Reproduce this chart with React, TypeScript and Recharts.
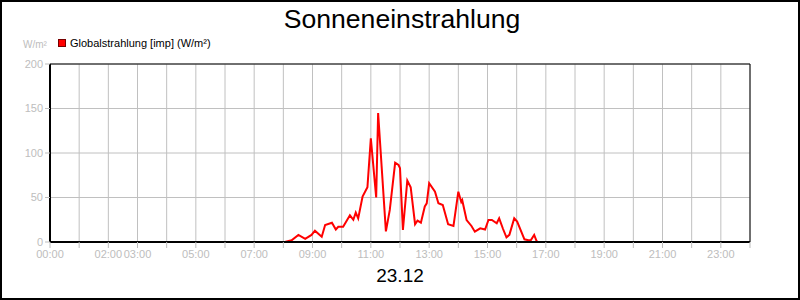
import React from 'react';
import { LineChart, Line, XAxis, YAxis, CartesianGrid, Legend, ReferenceLine } from 'recharts';

// minutes since midnight
const times = [
  0, 483, 497, 511, 525, 538, 545, 559, 566, 580, 588, 593, 603, 617, 624, 629, 634, 643, 653,
  660, 671, 675, 691, 699, 710, 717, 720, 726, 735, 742, 751, 756, 763, 771, 775, 780, 792,
  799, 808, 819, 830, 840, 846, 848, 857, 867, 874, 885, 895, 902, 909, 919, 924, 932, 939,
  945, 955, 961, 976, 984, 989, 996, 1001, 1004, 1440,
];
const globalstrahlung = [
  0, 0, 2, 8, 3.5, 8, 12.7, 6, 19, 21.7, 14, 17, 17, 30, 25, 33, 26.6, 51, 61.5,
  116.5, 50, 145, 12, 36, 89, 86.5, 83, 13.5, 69, 61.5, 20, 24, 21.7, 40, 43.5, 66, 56.5,
  43.5, 41.6, 20, 18, 56.5, 45, 47, 24.7, 18, 11.6, 15.4, 14, 24.7, 24.7, 21, 26.6, 14.6, 5.3,
  8, 26.6, 23, 3, 2, 2, 8, 1, 0, 0,
];
const hourTicks = Array.from({ length: 25 }, (_, i) => i * 60);
const shownLabels = ['00:00', '02:00', '03:00', '05:00', '07:00', '09:00', '11:00', '13:00', '15:00', '17:00', '19:00', '21:00', '23:00'];
const yTicks = [0, 50, 100, 150, 200];

const data = times.map((t, i) => ({ t, value: globalstrahlung[i] }));

const font = '"Liberation Sans", Arial, sans-serif';
const grey = '#bdbdbd';

const fmtTime = (m: number) => {
  const s = String(Math.floor(m / 60)).padStart(2, '0') + ':00';
  return shownLabels.includes(s) ? s : '';
};

const LegendBox = () => (
  <div style={{ display: 'flex', alignItems: 'center', fontSize: 11, color: '#000', fontFamily: font }}>
    <span style={{ width: 6, height: 6, background: '#ff0000', border: '1px solid #700', marginRight: 4 }} />
    <span>Globalstrahlung [imp] (W/m²)</span>
  </div>
);

const App: React.FC = () => {
  return (
    <div style={{ position: 'absolute', left: 0, top: 0, width: 800, height: 300, background: '#fff', fontFamily: font }}>
      <div style={{ position: 'absolute', top: 4, left: 2, width: 800, textAlign: 'center', fontSize: 26.6, lineHeight: '30px' }}>
        Sonneneinstrahlung
      </div>
      <div style={{ position: 'absolute', top: 39, left: 23, fontSize: 10, color: grey, lineHeight: '12px' }}>W/m²</div>
      <LineChart width={800} height={300} data={data} margin={{ top: 64, right: 50, bottom: 38, left: 0 }}>
        <CartesianGrid stroke="#c0c0c0" strokeWidth={1} />
        <XAxis
          dataKey="t"
          type="number"
          domain={[0, 1440]}
          ticks={hourTicks}
          interval={0}
          tickFormatter={fmtTime}
          height={20}
          axisLine={{ stroke: '#000', strokeWidth: 2 }}
          tickLine={{ stroke: grey }}
          tickSize={6}
          tickMargin={2}
          tick={{ fill: grey, fontSize: 11, fontFamily: font }}
        />
        <YAxis
          domain={[0, 200]}
          ticks={yTicks}
          width={50}
          axisLine={{ stroke: '#000', strokeWidth: 2 }}
          tickLine={{ stroke: grey }}
          tickSize={5}
          tickMargin={2}
          tick={{ fill: grey, fontSize: 11, fontFamily: font }}
        />
        <ReferenceLine y={200} stroke="#000" strokeWidth={1} />
        <ReferenceLine x={1440} stroke="#000" strokeWidth={1} />
        <Legend
          layout="horizontal"
          verticalAlign="middle"
          align="center"
          wrapperStyle={{ top: 37, left: 58, width: 'auto' }}
          content={() => <LegendBox />}
        />
        <Line
          type="linear"
          dataKey="value"
          stroke="#ff0000"
          strokeWidth={2}
          dot={false}
          isAnimationActive={false}
        />
      </LineChart>
      <div style={{ position: 'absolute', top: 265, left: 0, width: 800, textAlign: 'center', fontSize: 19, lineHeight: '22px' }}>
        23.12
      </div>
      <div style={{ position: 'absolute', left: 0, top: 0, width: 800, height: 300, boxSizing: 'border-box', border: '2px solid #000', pointerEvents: 'none' }} />
    </div>
  );
};

export default App;
